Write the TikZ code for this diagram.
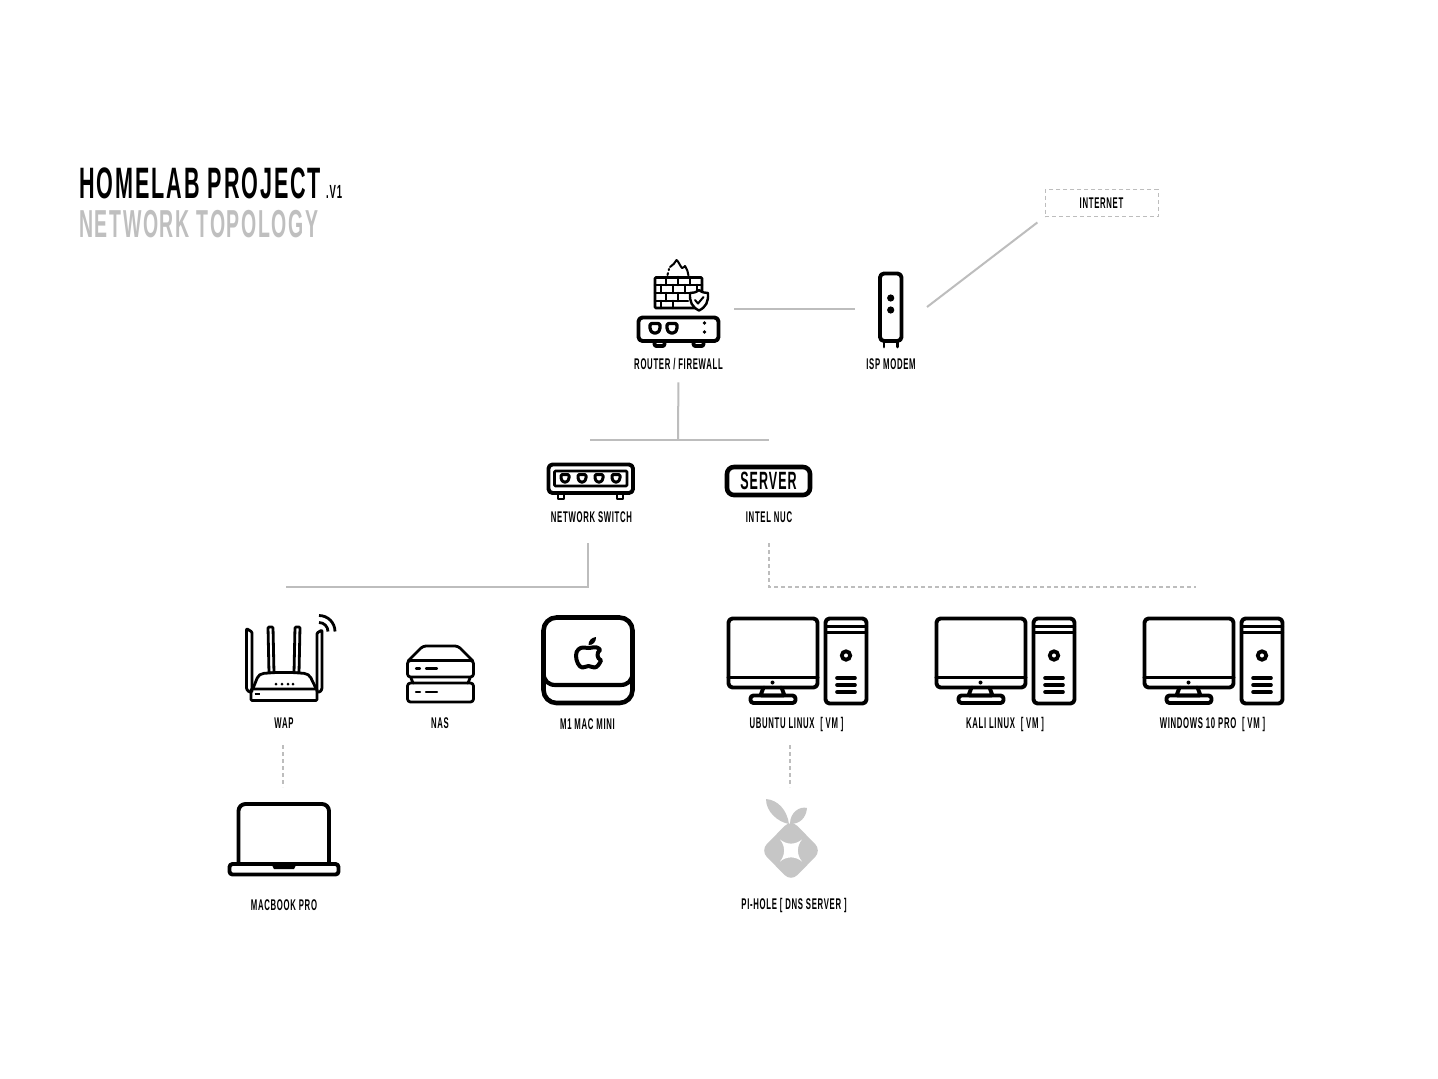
\documentclass[tikz,border=0pt]{standalone}
\usepackage{fontspec}
\setmainfont{Liberation Sans}
\newfontfamily\titlefont{Liberation Sans Bold}[FakeStretch=0.5,LetterSpace=4.2]
\newfontfamily\headfont{Liberation Sans Bold}[FakeStretch=0.49,LetterSpace=4.4]
\newfontfamily\labelfont{Liberation Sans Bold}[FakeStretch=0.5,LetterSpace=4.5]
\definecolor{linkgrey}{HTML}{BDBDBD}
\definecolor{titlegrey}{HTML}{BFBFBF}
\definecolor{pigrey}{HTML}{C6C6C6}
\tikzset{
  x=1pt,y=-1pt,
  icon/.style={draw=black,line width=3.9pt,line join=round,line cap=round,rounded corners=3pt},
  thin icon/.style={draw=black,line width=2.6pt,line join=round,line cap=round},
  link/.style={draw=linkgrey,line width=2pt},
  dashlink/.style={draw=linkgrey,line width=1.6pt,dash pattern=on 4pt off 3pt},
  lbl/.style={inner sep=0pt,yshift=-0.4pt,font=\labelfont\fontsize{15.5}{16}\selectfont,text=black},
  anchorbox/.style={inner sep=0pt,draw=none},
  pics/desktop/.style={code={
    \draw[icon,rounded corners=4pt] (0,0) rectangle (89,69);
    \draw[icon] (0,59) -- (89,59);
    \fill (44,64) circle (2);
    \draw[icon,rounded corners=1pt] (35,69) -- (32,77) -- (56,77) -- (53,69);
    \draw[icon,rounded corners=3pt] (22,77) rectangle (67,84.5);
    \draw[icon,rounded corners=4pt] (97,0) rectangle (138,85);
    \draw[thin icon,line width=3pt] (97,7.5) -- (138,7.5) (97,13.5) -- (138,13.5);
    \draw[line width=3.8pt] (117.5,37) circle (4.2);
    \draw[icon,line width=3.6pt] (108.5,59.5) -- (126.5,59.5) (108.5,66.5) -- (126.5,66.5) (108.5,73.5) -- (126.5,73.5);
  }},
  pics/jack/.style={code={
    \draw[thin icon,line width=3.2pt,rounded corners=1.5pt] (-5,-5) -- (5,-5) -- (5,1) -- (2.5,4.5) -- (-2.5,4.5) -- (-5,1) -- cycle;
  }},
}
\begin{document}
\begin{tikzpicture}
\useasboundingbox (0,0) rectangle (1438,1079);
\fill[white] (0,0) rectangle (1438,1079);

% ---------- title
\node[anchor=base west,inner sep=0pt,font=\headfont\fontsize{44}{45}\selectfont] (title) at (79,198) {HOMELAB PROJECT};
\node[anchor=base west,inner sep=0pt,font=\titlefont\fontsize{19}{20}\selectfont] (version) at (326,198) {.V1};
\node[anchor=base west,inner sep=0pt,text=titlegrey,font=\titlefont\fontsize{39}{40}\selectfont] (subtitle) at (79,237) {NETWORK TOPOLOGY};

% ---------- internet
\node[draw=linkgrey,line width=1pt,dash pattern=on 4pt off 3pt,minimum width=113pt,minimum height=27pt,inner sep=0pt,font=\labelfont\fontsize{15.5}{16}\selectfont] (internet) at (1101.5,203) {INTERNET};

% ---------- firewall + router
\draw[icon,line width=2.8pt,rounded corners=1pt] (655,277.5) rectangle (702,308);
\draw[thin icon] (655,285) -- (702,285) (655,293) -- (694,293) (655,301) -- (688,301);
\draw[thin icon] (666,277) -- (666,285) (678,277) -- (678,285) (690,277) -- (690,285)
  (661,285) -- (661,293) (673,285) -- (673,293) (685,285) -- (685,293) (697,285) -- (697,293)
  (666,293) -- (666,301) (678,293) -- (678,301)
  (661,301) -- (661,308) (673,301) -- (673,308);
\draw[line width=2pt,line cap=round,line join=round,dash pattern=on 2pt off 3pt] (667.5,275) -- (669,269);
\draw[line width=2pt,line cap=round,line join=round] (670,267) .. controls (673,265) and (675,263) .. (676.5,260) .. controls (679,262) and (680,266) .. (682,268) .. controls (683,268) and (684,267) .. (685,266) .. controls (687,269) and (688,272) .. (688.5,275.5);
\filldraw[fill=white,draw=black,line width=2.4pt,line join=round] (699,290) .. controls (702,292.5) and (705,293) .. (708,293) .. controls (708.5,302) and (706,307) .. (699,310.5) .. controls (692,307) and (689.5,302) .. (690,293) .. controls (693,293) and (696,292.5) .. (699,290) -- cycle;
\draw[line width=2pt,line cap=round,line join=round] (695,300) -- (698,303.5) -- (703.5,297);
\draw[icon,rounded corners=4pt] (638.5,317.5) rectangle (718.5,341);
\draw[icon,rounded corners=2pt] (654.5,341) -- (654.5,346) -- (664.5,346) -- (664.5,341);
\draw[icon,rounded corners=2pt] (693.5,341) -- (693.5,346) -- (703.5,346) -- (703.5,341);
\pic at (655,328.5) {jack};
\pic at (672,328.5) {jack};
\fill (704.5,323) circle (1.8) (704.5,332) circle (1.8);
\node[anchorbox,minimum width=112pt,minimum height=90pt] (router) at (678,309) {};
\node[lbl] (lblRouter) at (678.5,364) {ROUTER / FIREWALL};

% ---------- modem
\draw[icon,rounded corners=4pt] (880,273.5) rectangle (901.5,341);
\draw[icon,line width=2.8pt] (884,341) -- (884,347) (897.5,341) -- (897.5,347);
\fill (890.7,298) circle (3.6) (890.7,310) circle (3.6);
\node[anchorbox,minimum width=72pt,minimum height=80pt] (modem) at (891,309) {};
\node[lbl] (lblModem) at (891,364) {ISP MODEM};

% ---------- switch
\draw[icon,rounded corners=4pt] (548.5,464.5) rectangle (633,493);
\draw[icon,line width=2.8pt,rounded corners=1pt] (554.5,471) rectangle (627,486);
\foreach \px in {565,582,599,616} { \draw[thin icon,line width=3pt,rounded corners=1.2pt] (\px-4,474.5) -- (\px+4,474.5) -- (\px+4,479) -- (\px+2,482) -- (\px-2,482) -- (\px-4,479) -- cycle; }
\draw[thin icon,line width=2.6pt] (558,493) -- (558,499) -- (564,499) -- (564,493);
\draw[thin icon,line width=2.6pt] (617,493) -- (617,499) -- (623,499) -- (623,493);
\node[lbl] (lblSwitch) at (591.5,517) {NETWORK SWITCH};

% ---------- server
\node[draw=black,line width=4.6pt,rounded corners=7pt,minimum width=83pt,minimum height=28pt,inner sep=0pt,font=\titlefont\fontsize{25}{26}\selectfont] (server) at (768.5,481) {SERVER};
\node[lbl] (lblNuc) at (769,517) {INTEL NUC};

% ---------- WAP
\draw[icon,line width=2.8pt,rounded corners=1pt] (246.5,628.5) -- (252,632) -- (252,692) -- (249,692) -- (246.5,689) -- cycle;
\draw[icon,line width=2.8pt,rounded corners=1pt] (268,627) -- (273,627) -- (274,673) -- (269,673) -- cycle;
\draw[icon,line width=2.8pt,rounded corners=1pt] (295,627) -- (300,627) -- (299,673) -- (294,673) -- cycle;
\draw[icon,line width=2.8pt,rounded corners=1pt] (322,630) -- (317,633) -- (317,692) -- (320,692) -- (322,689) -- cycle;
\draw[icon,line width=2.8pt,rounded corners=2pt,fill=white] (253,688.5) -- (258,676) -- (262,673.5) -- (275,672.5) -- (293,672.5) -- (306,673.5) -- (310,676) -- (316,688.5);
\draw[icon,line width=2.8pt,rounded corners=1pt] (251,689) rectangle (317,700.5);
\draw[line width=2pt] (254.5,694) -- (260,694);
\fill (276,684) circle (1.5) (282,684) circle (1.5) (288,684) circle (1.5) (293,684) circle (1.5);
\draw[line width=2.8pt] (319,622.5) arc[start angle=-90,end angle=0,radius=9];
\draw[line width=2.8pt] (319,615.5) arc[start angle=-90,end angle=0,radius=16];
\node[lbl] (lblWap) at (284,723) {WAP};

% ---------- NAS
\draw[icon,line width=2.8pt,rounded corners=3pt] (408,661) -- (423,646) -- (458,646) -- (473,661);
\draw[icon,line width=2.8pt,rounded corners=3pt] (407.5,660.5) rectangle (473.5,677);
\draw[icon,line width=2.8pt,rounded corners=3pt] (407.5,683) rectangle (473.5,702);
\draw[icon,line width=2.8pt,rounded corners=1pt] (411,678) -- (413,683) (470,678) -- (468,683);
\draw[thin icon,line width=2.2pt] (416,668.5) -- (420,668.5) (426,668.5) -- (437,668.5) (416,692) -- (420,692) (426,692) -- (437,692);
\node[lbl] (lblNas) at (440,723) {NAS};

% ---------- Mac mini
\draw[icon,line width=4.6pt,rounded corners=13pt] (543.5,617.5) rectangle (632.5,703);
\draw[line width=4.2pt] (543.5,672) .. controls (543.5,681) and (548,685) .. (556,685) -- (620,685) .. controls (628,685) and (632.5,681) .. (632.5,672);
\draw[line width=4pt,line join=round] (589,648) .. controls (592,648) and (595,646.5) .. (597,647.5) .. controls (598.5,648) and (599.5,649) .. (600,650) .. controls (596.5,652.5) and (596.5,658) .. (601,660.5) .. controls (599.5,664) and (597,667.5) .. (594.5,667.5) .. controls (592,667.5) and (591,666) .. (588.5,666) .. controls (586,666) and (585,667.5) .. (582.5,667.5) .. controls (579,667.5) and (576,661) .. (576,655.5) .. controls (576,650) and (580,647.5) .. (583,647.5) .. controls (585,647.5) and (587,648) .. (589,648) -- cycle;
\fill (588.5,645) .. controls (588.5,640.5) and (591.5,637.5) .. (596,637) .. controls (596.3,641.5) and (593,645.5) .. (588.5,645) -- cycle;
\node[lbl] (lblMini) at (587.5,724) {M1 MAC MINI};

% ---------- VMs
\pic at (728.5,618.5) {desktop};
\pic at (936.5,618.5) {desktop};
\pic at (1144.5,618.5) {desktop};
\node[lbl] (lblUbuntu) at (796.5,724) {UBUNTU LINUX~~[ VM ]};
\node[lbl] (lblKali) at (1005,724) {KALI LINUX~~[ VM ]};
\node[lbl] (lblWin) at (1212.5,724) {WINDOWS 10 PRO~~[ VM ]};

% ---------- laptop
\draw[icon,rounded corners=7pt] (238.5,863) -- (238.5,804) -- (329,804) -- (329,863);
\draw[icon,rounded corners=3pt] (229.5,864) rectangle (338.5,874.5);
\fill (271,863) -- (297,863) -- (294,869) -- (274,869) -- cycle;
\node[lbl] (lblBook) at (284,905) {MACBOOK PRO};

% ---------- pi-hole
\fill[pigrey] (766,799) .. controls (778,800) and (787,810) .. (789,824) .. controls (778,822) and (766,812) .. (766,799) -- cycle;
\fill[pigrey] (807,808) .. controls (800,806) and (790,812) .. (790,824) .. controls (800,824) and (806,818) .. (807,808) -- cycle;
\fill[pigrey,rounded corners=9pt] (791,819.5) -- (821.5,850.5) -- (791,881.5) -- (760.5,850.5) -- cycle;
\fill[white] (780,839.5) .. controls (787,845) and (795,845) .. (802,839.5) .. controls (796.5,846) and (796.5,855) .. (802,861.5) .. controls (795,856) and (787,856) .. (780,861.5) .. controls (785.5,855) and (785.5,846) .. (780,839.5) -- cycle;
\node[lbl] (lblPi) at (794,905) {PI-HOLE [ DNS SERVER ]};

% ---------- connector end points
\coordinate (busT) at (678,440);
\coordinate (busL) at (590,440);
\coordinate (busR) at (769,440);
\coordinate (swDown) at (588,587);
\coordinate (lanEnd) at (286,587);
\coordinate (nucDown) at (769,587);
\coordinate (vmEnd) at (1196,587);
\coordinate (wapEnd) at (283,787);
\coordinate (piEnd) at (790,787);

% ---------- connectors
\draw[link] (router.east) -- (modem.west);
\draw[link,shorten >=9pt] (927,307) -- (internet.south west);
\draw[link,shorten <=12pt] (lblRouter.south) -- (busT);
\draw[link] (busL) -- (busR);
\draw[link] (588,543) -- (swDown) -- (lanEnd);
\draw[dashlink] (769,543) -- (nucDown) -- (vmEnd);
\draw[dashlink] (283,745) -- (wapEnd);
\draw[dashlink] (790,745) -- (piEnd);
\end{tikzpicture}
\end{document}
